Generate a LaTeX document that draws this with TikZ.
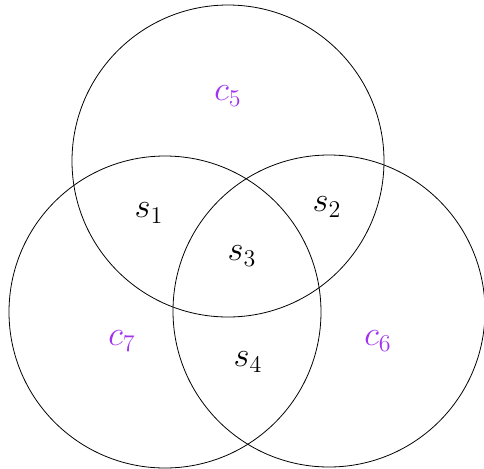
\documentclass[tikz,border=0pt]{standalone}
\usepackage{tikz}
\usetikzlibrary{positioning}
\definecolor{setviolet}{RGB}{160,50,240}

\begin{document}
\begin{tikzpicture}[x=0.5pt, y=-0.5pt,   % one unit = one pixel of the sketch
    setcircle/.style={
        draw=black,
        circle,
        inner sep=0pt,
        minimum size=156pt
    },
    setlabel/.style={
        text=setviolet,
        font=\fontsize{17}{20}\selectfont
    },
    partlabel/.style={
        font=\fontsize{17}{20}\selectfont
    }
]
    \useasboundingbox (0,0) rectangle (484,468);

    % 1. The three sets
    \node [setcircle] (C5) at (228,161) {};
    \node [setcircle] (C7) at (165,312) {};
    \node [setcircle] (C6) at (329,311) {};

    % 2. The set names
    \node [setlabel] (c5) at (228,96) {$c_5$};
    \node [setlabel] (c7) at (122,341) {$c_7$};
    \node [setlabel] (c6) at (378,341) {$c_6$};

    % 3. The regions
    \node [partlabel] (s1) at (149,213) {$s_1$};
    \node [partlabel] (s2) at (327,207) {$s_2$};
    \node [partlabel] (s3) at (242,256) {$s_3$};
    \node [partlabel] (s4) at (248,362) {$s_4$};

\end{tikzpicture}
\end{document}
